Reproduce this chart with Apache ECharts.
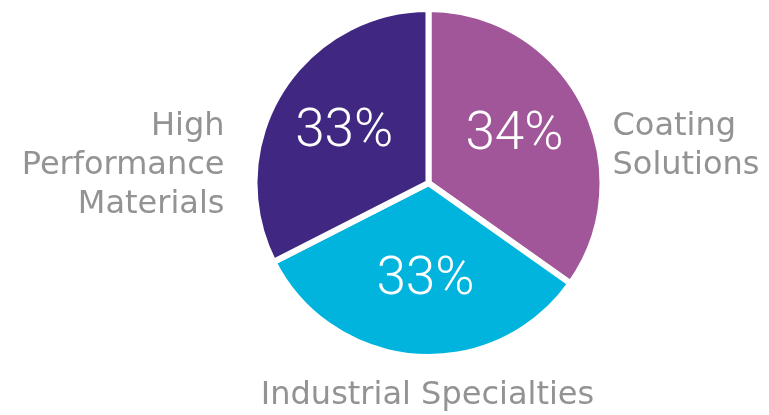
<!DOCTYPE html>
<html>
<head>
<meta charset="utf-8">
<script src="https://cdn.jsdelivr.net/npm/echarts@6/dist/echarts.min.js"></script>
<style>
html,body{margin:0;padding:0;background:#fff;}
#chart{width:769px;height:415px;}
</style>
</head>
<body>
<div id="chart"></div>
<script>
// Data
const categories = ['Coating Solutions', 'Industrial Specialties', 'High Performance Materials'];
const outerLabels = ['Coating\nSolutions', 'Industrial Specialties', 'High\nPerformance\nMaterials'];
const sliceValues = [34.8, 32.7, 32.5];
const shareValues = [34, 33, 33];
const shareLabels = ['34%', '33%', '33%'];
const colors = ['#A05698', '#00B4DE', '#402882'];

// Layout
const CX = 428.5, CY = 183, R = 171, BORDER = 6;
const outerPos = [
  { x: CX + R + 13, y: CY - 37, align: 'left' },
  { x: CX - 1, y: CY + R + 42, align: 'center' },
  { x: CX - R - 33, y: CY - 17.5, align: 'right' }
];

const chart = echarts.init(document.getElementById('chart'), null, { renderer: 'canvas' });
chart.setOption({
  animation: false,
  backgroundColor: '#ffffff',
  series: [
    {
      type: 'pie',
      center: [CX, CY],
      radius: [0, R + BORDER / 2],
      startAngle: 90,
      clockwise: true,
      silent: true,
      itemStyle: { borderColor: '#ffffff', borderWidth: BORDER },
      label: {
        show: true,
        position: 'outside',
        formatter: p => outerLabels[p.dataIndex],
        fontFamily: 'DejaVu Sans',
        fontSize: 32,
        lineHeight: 39,
        color: '#939393',
        overflow: 'none',
        width: 300
      },
      labelLine: { show: false },
      labelLayout: p => ({
        x: outerPos[p.dataIndex].x,
        y: outerPos[p.dataIndex].y,
        align: outerPos[p.dataIndex].align,
        verticalAlign: 'middle',
        hideOverlap: false,
        moveOverlap: false
      }),
      data: categories.map((c, i) => ({ name: c, value: sliceValues[i], itemStyle: { color: colors[i] } }))
    },
    {
      type: 'pie',
      center: [CX, CY],
      radius: [0, 190],
      startAngle: 90,
      clockwise: true,
      silent: true,
      itemStyle: { color: 'rgba(0,0,0,0)', borderWidth: 0 },
      label: {
        show: true,
        position: 'inside',
        formatter: p => shareLabels[p.dataIndex],
        fontFamily: 'Roboto',
        fontWeight: 300,
        fontSize: 53,
        color: '#ffffff'
      },
      labelLine: { show: false },
      data: categories.map((c, i) => ({ name: c, value: shareValues[i] }))
    }
  ]
});
</script>
</body>
</html>
